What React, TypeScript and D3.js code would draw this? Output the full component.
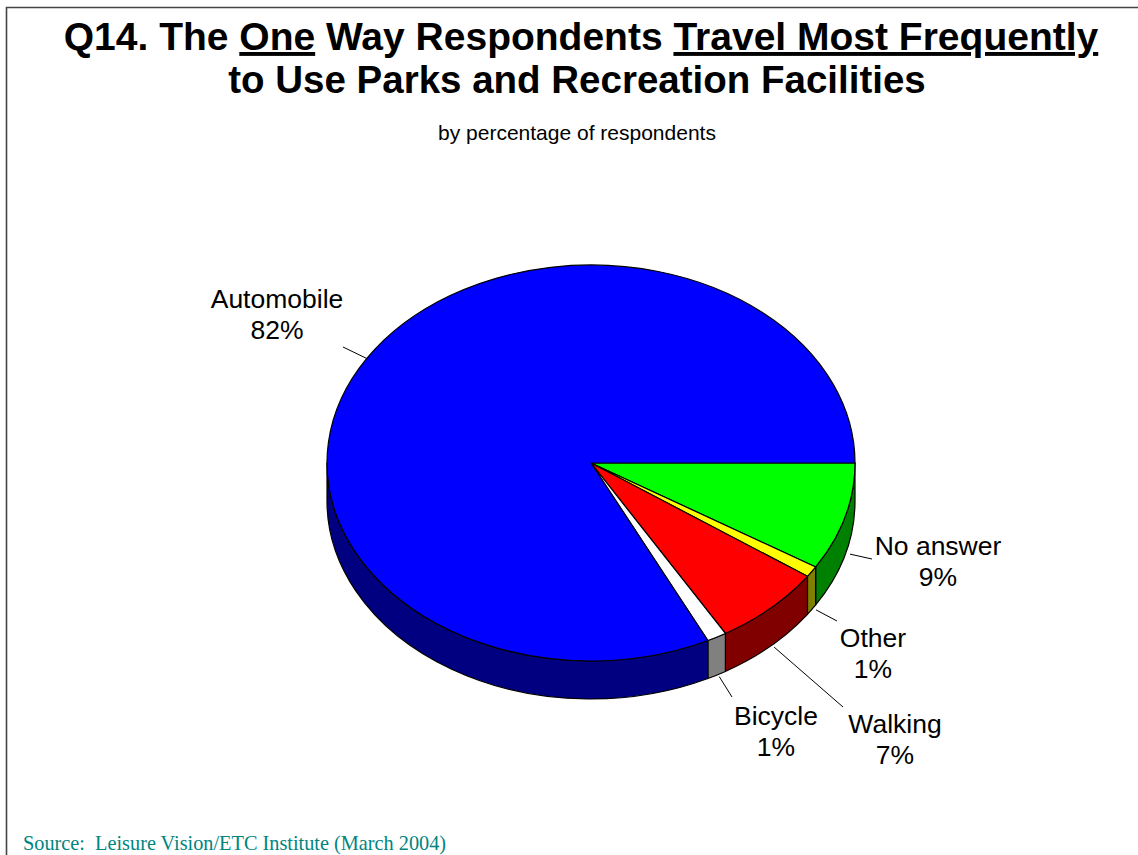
import React from "react";
import * as d3 from "d3";

const categories = ["No answer", "Other", "Walking", "Bicycle", "Automobile"];
const values = [8.8, 0.9, 6.8, 1.2, 82.3];
const topColors = ["#00FF00", "#FFFF00", "#FF0000", "#FFFFFF", "#0000FF"];
const sideColors = ["#008000", "#808000", "#800000", "#808080", "#000080"];
// label anchor (centre x, first baseline) and leader end, per category
const labelAnchors = [
  [938, 555, 872, 559],
  [873, 647, 837, 621],
  [895, 733, 843, 707],
  [776, 725, 732, 697],
  [277, 308, 343, 347],
];

const W = 1138;
const H = 855;
const cx = 591;
const cy = 463;
const rx = 264;
const ry = 198;
const depth = 38;

function pt(a: number, k = 1, dy = 0): [number, number] {
  return [cx + rx * k * Math.cos(a), cy + ry * k * Math.sin(a) + dy];
}

export default function App() {
  const pie = d3
    .pie<number>()
    .sort(null)
    .startAngle(0)
    .endAngle(2 * Math.PI)
    .value((d) => d);
  const arcs = pie(values);

  const sides = arcs.map((a, i) => {
    const s = Math.max(a.startAngle, 0);
    const e = Math.min(a.endAngle, Math.PI);
    if (s >= e) return null;
    const p0 = pt(s);
    const p1 = pt(e);
    const q1 = pt(e, 1, depth);
    const q0 = pt(s, 1, depth);
    const d = `M${p0[0]},${p0[1]} A${rx},${ry} 0 0 1 ${p1[0]},${p1[1]} L${q1[0]},${q1[1]} A${rx},${ry} 0 0 0 ${q0[0]},${q0[1]} Z`;
    return <path key={"s" + i} d={d} fill={sideColors[i]} stroke="#000" strokeWidth={1.2} strokeLinejoin="round" />;
  });

  const tops = arcs.map((a, i) => {
    const p0 = pt(a.startAngle);
    const p1 = pt(a.endAngle);
    const large = a.endAngle - a.startAngle > Math.PI ? 1 : 0;
    const d = `M${cx},${cy} L${p0[0]},${p0[1]} A${rx},${ry} 0 ${large} 1 ${p1[0]},${p1[1]} Z`;
    return <path key={"t" + i} d={d} fill={topColors[i]} stroke="#000" strokeWidth={1.2} strokeLinejoin="round" />;
  });

  const labels = arcs.map((a, i) => {
    const mid = (a.startAngle + a.endAngle) / 2;
    const front = Math.sin(mid) > 0;
    const st = front ? pt(mid, 1.02, depth - 2) : pt(mid, 1, 0);
    const [lx, ly, ex, ey] = labelAnchors[i];
    return (
      <g key={"l" + i}>
        <line x1={st[0]} y1={st[1]} x2={ex} y2={ey} stroke="#000" strokeWidth={1} />
        <text x={lx} y={ly} textAnchor="middle" fontSize={26.5} fontFamily="Liberation Sans, Arial, sans-serif" fill="#000">
          {categories[i]}
        </text>
        <text x={lx} y={ly + 31} textAnchor="middle" fontSize={26.5} fontFamily="Liberation Sans, Arial, sans-serif" fill="#000">
          {Math.round(values[i]) + "%"}
        </text>
      </g>
    );
  });

  return (
    <svg width={W} height={H} style={{ position: "absolute", left: 0, top: 0, background: "#fff" }}>
      <path d={`M6.5,${H} V7.5 H${W}`} fill="none" stroke="#444" strokeWidth={1.6} />
      <text x={581} y={50} textAnchor="middle" fontSize={39} fontWeight="bold" fontFamily="Liberation Sans, Arial, sans-serif" fill="#000">
        <tspan>Q14. The </tspan>
        <tspan textDecoration="underline">One</tspan>
        <tspan> Way Respondents </tspan>
        <tspan textDecoration="underline">Travel Most Frequently</tspan>
      </text>
      <text x={577} y={93} textAnchor="middle" fontSize={38.5} fontWeight="bold" fontFamily="Liberation Sans, Arial, sans-serif" fill="#000">
        to Use Parks and Recreation Facilities
      </text>
      <text x={577} y={140} textAnchor="middle" fontSize={21} fontFamily="Liberation Sans, Arial, sans-serif" fill="#000">
        by percentage of respondents
      </text>
      {sides}
      {tops}
      {labels}
      <text x={23} y={850} fontSize={20.3} fontFamily="Liberation Serif, Times New Roman, serif" fill="#00857f" style={{ whiteSpace: "pre" }}>
        {"Source:  Leisure Vision/ETC Institute (March 2004)"}
      </text>
    </svg>
  );
}
